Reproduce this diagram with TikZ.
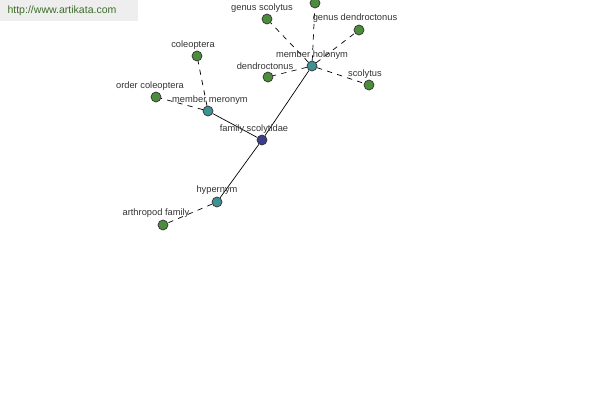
\documentclass[tikz,border=0pt]{standalone}
\usepackage{fontspec}
\setmainfont{Liberation Sans}
\usetikzlibrary{backgrounds}
\definecolor{leafgreen}{RGB}{76,140,60}
\definecolor{relteal}{RGB}{64,146,146}
\definecolor{rootblue}{RGB}{58,62,140}
\definecolor{logogray}{RGB}{238,238,238}
\definecolor{logotext}{RGB}{60,110,40}

\begin{document}
\begin{tikzpicture}[x=0.02cm,y=-0.02cm, line join=round, line cap=round,
    dot/.style={circle,draw=black!80,line width=0.4pt,minimum size=0.2cm,inner sep=0pt},
    leaf/.style={dot,fill=leafgreen},
    rel/.style={dot,fill=relteal},
    root/.style={dot,fill=rootblue},
    tag/.style={inner sep=0pt,font=\fontsize{5.3}{6}\selectfont,text=black!80},
    link/.style={line width=0.4pt},
    weak/.style={line width=0.4pt,dash pattern=on 3pt off 3pt}]
    % frame
    \useasboundingbox (0,0) rectangle (600,400);
    \fill[logogray] (0,0) rectangle (138,21);
    \node[inner sep=0pt,font=\fontsize{6}{7}\selectfont,text=logotext] (logo) at (62,11) {http://www.artikata.com};
    % centre and relations
    \node[root] (scolytidae) at (262,140) {};
    \node[rel] (meronym) at (208,111) {};
    \node[rel] (hypernym) at (217,202) {};
    \node[rel] (holonym) at (312,66) {};
    % leaves
    \node[leaf] (coleoptera) at (197,56) {};
    \node[leaf] (ordercol) at (156,97) {};
    \node[leaf] (arthropod) at (163,225) {};
    \node[leaf] (genscol) at (267,19) {};
    \node[leaf] (topleaf) at (315,3) {};
    \node[leaf] (gendend) at (359,30) {};
    \node[leaf] (dend) at (268,77) {};
    \node[leaf] (scolytus) at (369,85) {};
    % labels
    \node[tag] (tscolytidae) at (254,129) {family scolytidae};
    \node[tag] (tmeronym) at (210,100) {member meronym};
    \node[tag] (thypernym) at (217,190) {hypernym};
    \node[tag] (tholonym) at (312,55) {member holonym};
    \node[tag] (tcoleoptera) at (193,45) {coleoptera};
    \node[tag] (tordercol) at (150,86) {order coleoptera};
    \node[tag] (tarthropod) at (156,213) {arthropod family};
    \node[tag] (tgenscol) at (262,8) {genus scolytus};
    \node[tag] (tgendend) at (355,18) {genus dendroctonus};
    \node[tag] (tdend) at (265,66) {dendroctonus};
    \node[tag] (tscolytus) at (365,74) {scolytus};
    % edges
    \begin{scope}[on background layer]
        \draw[link] (scolytidae) -- (meronym);
        \draw[link] (scolytidae) -- (hypernym);
        \draw[link] (scolytidae) -- (holonym);
        \draw[weak] (meronym) -- (coleoptera);
        \draw[weak] (meronym) -- (ordercol);
        \draw[weak] (hypernym) -- (arthropod);
        \foreach \n in {genscol,topleaf,gendend,dend,scolytus} {
            \draw[weak] (holonym) -- (\n);
        }
    \end{scope}
\end{tikzpicture}
\end{document}
